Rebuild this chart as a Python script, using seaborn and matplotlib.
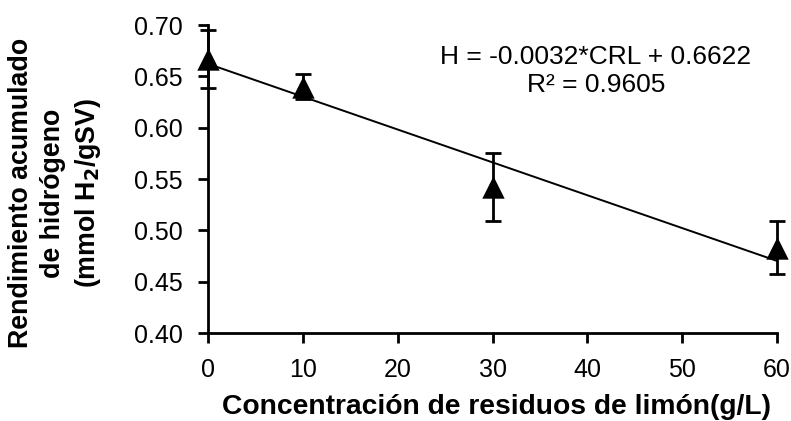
import matplotlib
matplotlib.use("Agg")
import matplotlib.pyplot as plt
import seaborn as sns
import pandas as pd

# Residue concentration (g/L) and cumulative hydrogen yield
concentracion = [0, 10, 30, 60]
rendimiento = [0.667, 0.640, 0.542, 0.483]
error = [0.028, 0.0125, 0.0333, 0.026]

# Linear trend reported on the chart
pendiente = -0.0032
intercepto = 0.6622
r2 = 0.9605

x_ticks = [0, 10, 20, 30, 40, 50, 60]
y_ticks = [0.40, 0.45, 0.50, 0.55, 0.60, 0.65, 0.70]

sns.set_theme(style="white")
plt.rcParams["font.family"] = ["Liberation Sans", "DejaVu Sans"]
plt.rcParams.update({"text.color": "black", "axes.labelcolor": "black",
                     "xtick.color": "black", "ytick.color": "black"})

fig = plt.figure(figsize=(7.91, 4.21), dpi=100)
ax = fig.add_axes([208 / 791, 1 - 333 / 421, (777 - 208) / 791, (333 - 25) / 421])

df = pd.DataFrame({"CRL": concentracion, "H": rendimiento})
tendencia = pd.DataFrame({
    "CRL": [concentracion[0], concentracion[-1]],
    "H": [intercepto + pendiente * concentracion[0], intercepto + pendiente * concentracion[-1]],
})

sns.lineplot(data=tendencia, x="CRL", y="H", color="black", linewidth=1.4, ax=ax, zorder=2)
ax.errorbar(concentracion, rendimiento, yerr=error, fmt="none", ecolor="black",
            elinewidth=2, capsize=6, capthick=2, zorder=3, clip_on=False)
sns.scatterplot(data=df, x="CRL", y="H", marker="^", s=260, color="black",
                edgecolor="black", linewidth=0, ax=ax, zorder=4, clip_on=False)

ax.set_xlim(0, 60)
ax.set_ylim(0.40, 0.70)
ax.set_xticks(x_ticks)
ax.set_yticks(y_ticks)
ax.set_yticklabels([f"{v:.2f}" for v in y_ticks])
ax.tick_params(axis="both", labelsize=18, colors="black", direction="out",
               length=7, width=2, pad=11, left=True, bottom=True)

for side in ["top", "right"]:
    ax.spines[side].set_visible(False)
for side in ["left", "bottom"]:
    ax.spines[side].set_linewidth(2)
    ax.spines[side].set_color("black")

ax.set_xlabel("Concentración de residuos de limón(g/L)", fontsize=20.3,
              fontweight="bold")
ax.xaxis.set_label_coords((497 - 208) / 569, (333 - 420) / 308)
ax.xaxis.label.set_va("bottom")

ax.set_ylabel("Rendimiento acumulado\nde hidrógeno\n(mmol H$_\\mathbf{2}$/gSV)",
              fontsize=19.3, fontweight="bold", linespacing=1.3)
ax.yaxis.set_label_coords((8 - 208) / 569, (333 - 193) / 308)
ax.yaxis.label.set_va("top")

ax.text(0.682, 0.896, f"H = {pendiente}*CRL + {intercepto}",
        transform=ax.transAxes, ha="center", va="center", fontsize=19)
ax.text(0.682, 0.805, f"R² = {r2}",
        transform=ax.transAxes, ha="center", va="center", fontsize=19)

fig.savefig("out.png", dpi=100)
